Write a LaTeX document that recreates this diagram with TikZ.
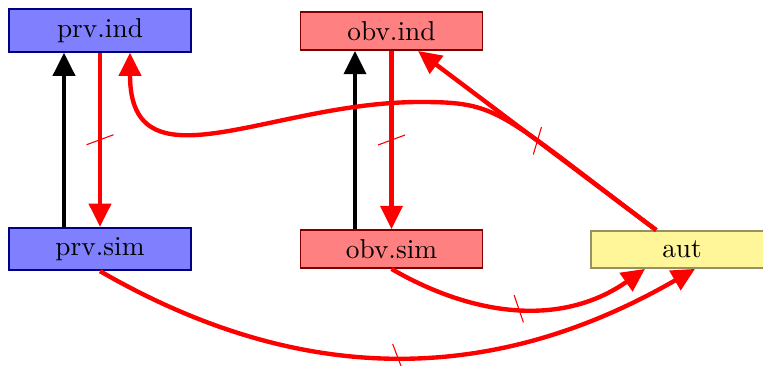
\documentclass[tikz,border=0pt]{standalone}
\usetikzlibrary{arrows.meta,calc,decorations.markings}
\definecolor{autfill}{RGB}{255,246,153}
\definecolor{autdraw}{RGB}{150,145,100}
\tikzset{
  box/.style={draw, line width=0.7pt, minimum width=66.6pt, inner sep=0pt},
  prvbox/.style={box, fill=blue!50, draw=blue!50!black, minimum height=15.5pt},
  obvbox/.style={box, fill=red!50, draw=red!50!black, minimum height=13.9pt},
  autbox/.style={box, fill=autfill, draw=autdraw, minimum height=13.5pt},
  link/.style={line width=1.6pt, -{Triangle[length=8.5pt,width=8pt]}},
  pos link/.style={link, black},
  red link/.style={link, red},
  neg link/.style={red link, postaction={decorate},
    decoration={markings, mark=at position 0.5 with
      {\draw[red, line width=0.4pt, -] (-5,-13.5) -- (5,13.5);}}},
}
\begin{document}
\begin{tikzpicture}[x=0.366pt, y=-0.366pt]
\useasboundingbox (0,0) rectangle (763,365);

% states
\node[prvbox] (prvind) at (100,30.5) {prv.ind};
\node[prvbox] (prvsim) at (100,249) {prv.sim};
\node[obvbox] (obvind) at (391.5,31) {obv.ind};
\node[obvbox] (obvsim) at (391.5,249) {obv.sim};
\node[autbox] (aut) at (682,249.5) {aut};

% positive links
\draw[pos link] ($(prvsim.north)+(-36,0)$) -- ($(prvind.south)+(-36,0)$);
\draw[pos link] ($(obvsim.north)+(-36.5,0)$) -- ($(obvind.south)+(-36.5,0)$);

% long link from aut back to prv.ind
\coordinate (bend) at (420,102);
\draw[red link] (aut) .. controls +(-185,-139) and +(80,0) .. (bend)
  .. controls +(-150,0) and +(0,140) .. ($(prvind.south)+(30,0)$);

% negated links
\draw[neg link] (prvind) -- (prvsim);
\draw[neg link] (obvind) -- (obvsim);
\draw[neg link] (aut) -- (obvind);
\draw[neg link] (obvsim.south) .. controls +(85.7,49.5) and +(-81,56.8) .. ($(aut.south)+(-37,0)$);
\draw[neg link] (prvsim.south) .. controls +(201.8,116.5) and +(-201.8,116.5) .. ($(aut.south)+(13,0)$);
\end{tikzpicture}
\end{document}
